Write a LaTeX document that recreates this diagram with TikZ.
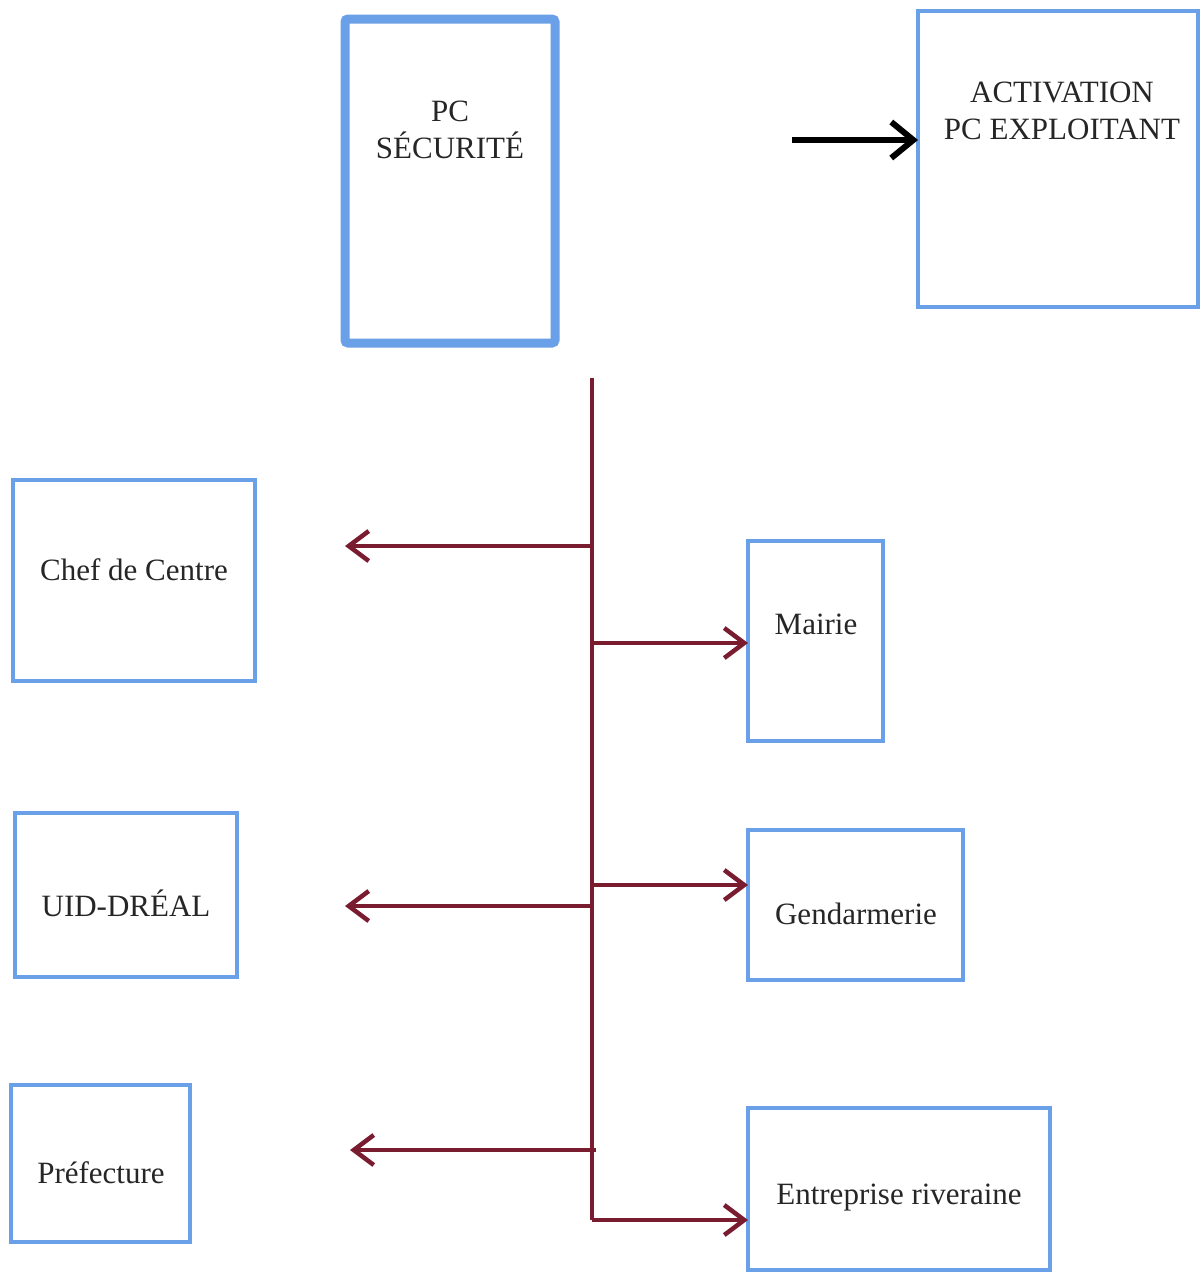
\documentclass[tikz,border=0pt]{standalone}
\usepackage{fontspec}
\setmainfont{Liberation Serif}
\usetikzlibrary{arrows.meta}
\definecolor{boxblue}{RGB}{106,160,232}
\definecolor{maroon}{RGB}{122,28,48}
\begin{document}
\begin{tikzpicture}[x=1pt,y=-1pt,
  box/.style={draw=boxblue,line width=4pt,fill=white,inner sep=0pt,outer sep=0pt,anchor=north west},
  lbl/.style={font=\fontsize{31}{37}\selectfont,text=black!85,align=center,inner sep=0pt},
  branch/.style={draw=maroon,line width=4.5pt,-{Straight Barb[length=20pt,width=30pt,line width=4.5pt]}},
  trunk/.style={draw=maroon,line width=4.5pt}]
\useasboundingbox (0,0) rectangle (1200,1272);
% top boxes
\node[box,line width=9pt,rounded corners=3pt,minimum width=210pt,minimum height=324pt] (pcs) at (345,19) {};
\node[lbl] (pcsT) at (450,130) {PC\\SÉCURITÉ};
\node[box,minimum width=280pt,minimum height=296pt] (act) at (918,11) {};
\node[lbl] (actT) at (1062,111) {ACTIVATION\\PC EXPLOITANT};
\coordinate (blk) at (792,140);
\draw[line width=6pt,-{Straight Barb[length=22pt,width=36pt,line width=6pt]}] (blk) -- (act.west |- blk);
% left boxes
\node[box,minimum width=242pt,minimum height=201pt] (chef) at (13,480) {};
\node[lbl] (chefT) at (134,570) {Chef de Centre};
\node[box,minimum width=222pt,minimum height=164pt] (uid) at (15,813) {};
\node[lbl] (uidT) at (126,903) {UID-DRÉAL};
\node[box,minimum width=179pt,minimum height=157pt] (pref) at (11,1085) {};
\node[lbl] (prefT) at (101,1173) {Préfecture};
% right boxes
\node[box,minimum width=135pt,minimum height=200pt] (mairie) at (748,541) {};
\node[lbl] (mairieT) at (816,624) {Mairie};
\node[box,minimum width=215pt,minimum height=150pt] (gend) at (748,830) {};
\node[lbl] (gendT) at (856,914) {Gendarmerie};
\node[box,minimum width=302pt,minimum height=162pt] (entr) at (748,1108) {};
\node[lbl] (entrT) at (899,1198) {Entreprise riveraine};
% trunk
\coordinate (top) at (592,378);
\coordinate (bot) at (592,1220);
\draw[trunk] (top) -- (bot);
% branch points
\coordinate (b1) at (592,546);
\coordinate (b2) at (592,643);
\coordinate (b3) at (592,906);
\coordinate (b4) at (592,885);
\coordinate (b5) at (596,1150);
\coordinate (e1) at (345,546);
\coordinate (e3) at (345,906);
\coordinate (e5) at (350,1150);
\draw[branch] (b1) -- (e1);
\draw[branch] (b3) -- (e3);
\draw[branch] (b5) -- (e5);
\draw[branch] (b2) -- (mairie.west |- b2);
\draw[branch] (b4) -- (gend.west |- b4);
\draw[branch] (bot) -- (entr.west |- bot);
\end{tikzpicture}
\end{document}
